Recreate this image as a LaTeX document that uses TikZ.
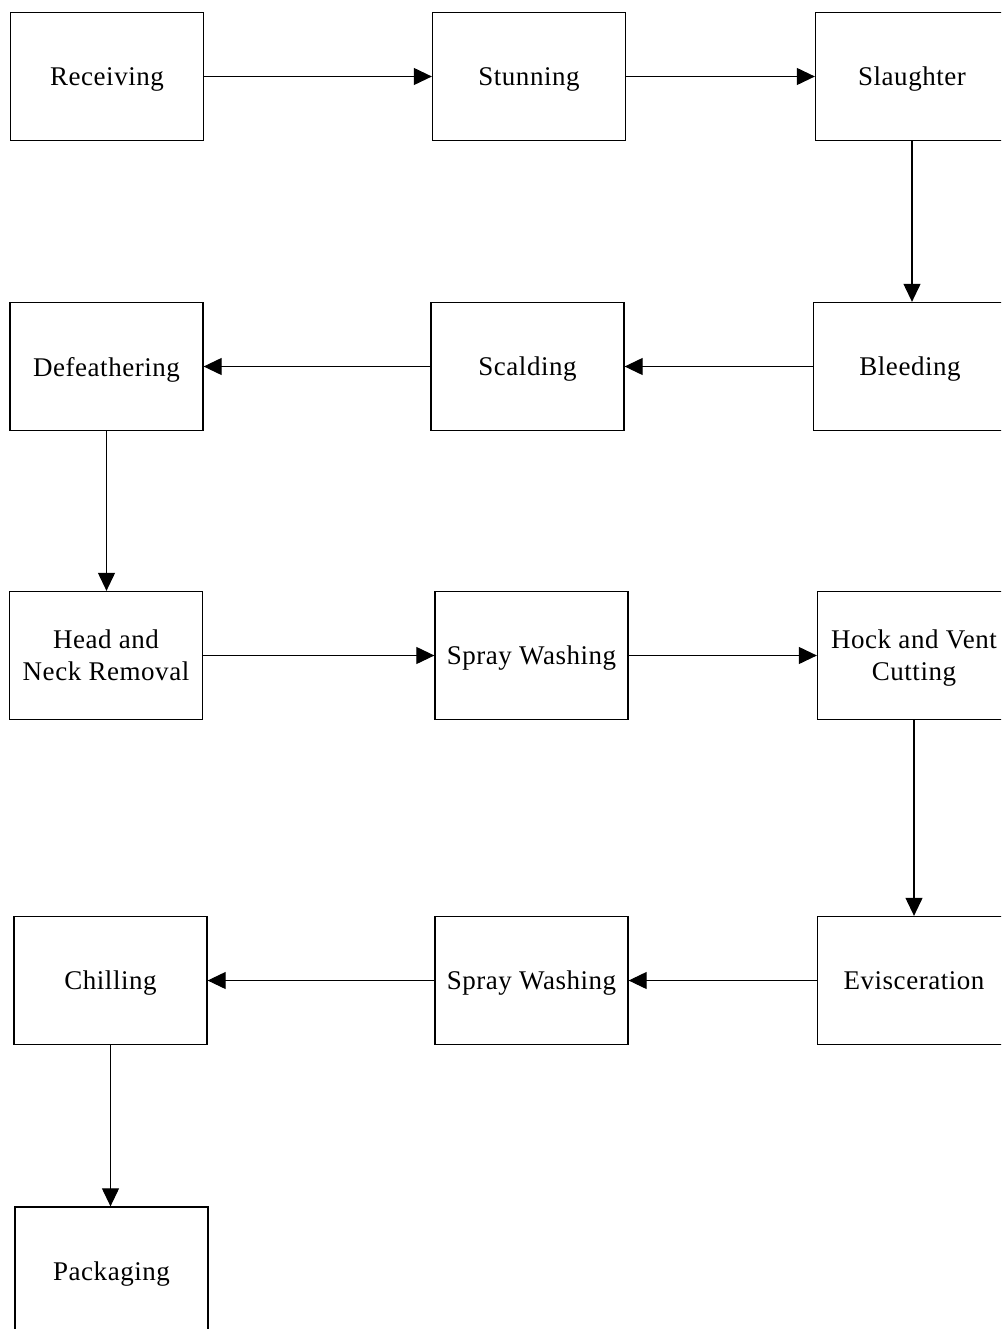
\documentclass[tikz,border=0pt]{standalone}
\usepackage{fontspec}
\setmainfont[LetterSpace=2]{Liberation Serif}
\usetikzlibrary{arrows.meta}
\begin{document}
\begin{tikzpicture}[x=1pt,y=-1pt,
  stepbox/.style={draw, line width=1.3pt, minimum width=193pt, minimum height=128pt,
    inner sep=2pt, align=center, text depth=0pt, font=\fontsize{27}{32}\selectfont},
  flow/.style={line width=1.1pt, -{Triangle[length=18pt,width=17pt]}}]
\useasboundingbox (0,0) rectangle (1001,1329);
\clip (0,0) rectangle (1001,1329);
\node[stepbox] (rec) at (107,76.5) {Receiving};
\node[stepbox] (stu) at (529,76.5) {Stunning};
\node[stepbox] (sla) at (912,76.5) {Slaughter};
\node[stepbox] (def) at (106.5,366.5) {Defeathering};
\node[stepbox] (sca) at (527.5,366.5) {Scalding};
\node[stepbox] (ble) at (910,366.5) {Bleeding};
\node[stepbox] (hea) at (106,655.5) {Head and\\Neck Removal};
\node[stepbox] (sp1) at (531.5,655.5) {Spray Washing};
\node[stepbox] (hoc) at (914,655.5) {Hock and Vent\\Cutting};
\node[stepbox] (chi) at (110.5,980.5) {Chilling};
\node[stepbox] (sp2) at (531.5,980.5) {Spray Washing};
\node[stepbox] (evi) at (914,980.5) {Evisceration};
\node[stepbox] (pac) at (111.5,1271) {Packaging};
\draw[flow] (rec.east) -- (stu.west);
\draw[flow] (stu.east) -- (sla.west);
\draw[flow] (sla.south) -- (ble.north -| sla.south);
\draw[flow] (ble.west) -- (sca.east);
\draw[flow] (sca.west) -- (def.east);
\draw[flow] (def.south) -- (hea.north -| def.south);
\draw[flow] (hea.east) -- (sp1.west);
\draw[flow] (sp1.east) -- (hoc.west);
\draw[flow] (hoc.south) -- (evi.north -| hoc.south);
\draw[flow] (evi.west) -- (sp2.east);
\draw[flow] (sp2.west) -- (chi.east);
\draw[flow] (chi.south) -- (pac.north -| chi.south);
\end{tikzpicture}
\end{document}
